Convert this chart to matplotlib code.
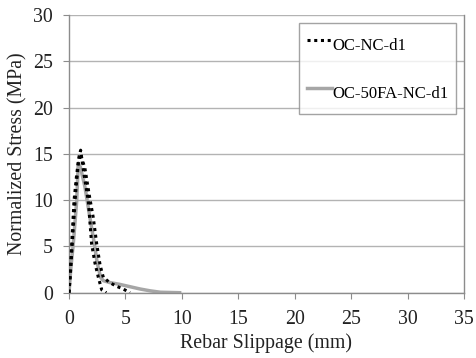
import matplotlib.pyplot as plt

plt.rcParams['font.family'] = ['Liberation Serif', 'DejaVu Serif']

# OC-NC-d1 (two dotted traces)
nc_a_x = [0, 0.1, 0.24, 0.44, 0.68, 0.9, 1.03, 1.3, 1.71, 2.0, 2.3, 2.6, 2.9, 3.3]
nc_a_y = [0, 2.0, 5.3, 9.9, 12.8, 14.8, 15.4, 13.0, 9.9, 5.3, 3.2, 1.65, 0.3, 0.0]
nc_b_x = [0, 0.15, 0.35, 0.6, 0.85, 1.0, 1.4, 1.8, 2.15, 2.45, 2.75, 3.04, 3.6, 4.2, 4.8, 5.4]
nc_b_y = [0, 2.5, 6.5, 11.0, 14.3, 15.0, 13.5, 10.5, 8.1, 5.3, 3.0, 1.65, 1.1, 0.7, 0.4, 0.0]

# OC-50FA-NC-d1
fa_x = [0, 0.15, 0.38, 0.68, 0.82, 1.0, 1.4, 1.8, 2.24, 2.5, 2.8, 3.04, 3.6, 4.5, 5.4, 6.3, 7.2, 8.1, 9.8]
fa_y = [0, 2.5, 5.3, 9.9, 14.0, 13.6, 11.5, 8.5, 5.3, 3.2, 1.65, 1.3, 1.1, 0.9, 0.65, 0.4, 0.2, 0.05, 0.0]

xticks = [0, 5, 10, 15, 20, 25, 30, 35]
yticks = [0, 5, 10, 15, 20, 25, 30]

fig = plt.figure(figsize=(4.77, 3.58), dpi=100)
ax = fig.add_axes([0.1447, 0.1824, 0.828, 0.7756])

ax.plot(fa_x, fa_y, color='#a6a6a6', lw=2.5, label='OC-50FA-NC-d1', zorder=2)
ax.plot(nc_a_x, nc_a_y, color='black', lw=2.2, ls=(0, (1, 1.2)), zorder=3)
ax.plot(nc_b_x, nc_b_y, color='black', lw=2.2, ls=(0, (1, 1.2)), zorder=3,
        label='OC-NC-d1')

ax.set_xlim(0, 35)
ax.set_ylim(0, 30)
ax.set_xticks(xticks)
ax.set_yticks(yticks)
ax.yaxis.grid(True, color='#b3b3b3', lw=1)
ax.set_axisbelow(True)
for s in ax.spines.values():
    s.set_color('#8c8c8c')
    s.set_linewidth(1)
ax.spines['top'].set_visible(False)
ax.tick_params(direction='out', length=4.5, color='#8c8c8c', labelsize=14.3,
               labelcolor='#222222')
ax.tick_params(axis='x', pad=8)
ax.tick_params(axis='y', pad=7)

ax.set_xlabel('Rebar Slippage (mm)', fontsize=14.3, color='#222222', labelpad=3)
ax.set_ylabel('Normalized Stress (MPa)', fontsize=14.3, color='#222222', labelpad=4)

h, l = ax.get_legend_handles_labels()
leg = ax.legend(h[::-1], l[::-1], loc='upper right', bbox_to_anchor=(0.98, 0.971),
                fontsize=12, frameon=True, fancybox=False, handlelength=1.5,
                handleheight=2.3, handletextpad=0.05, labelspacing=1.1,
                borderpad=0.45, borderaxespad=0)
leg.get_frame().set_edgecolor('#8c8c8c')
leg.get_frame().set_linewidth(1)

fig.savefig('out.png', dpi=100)
